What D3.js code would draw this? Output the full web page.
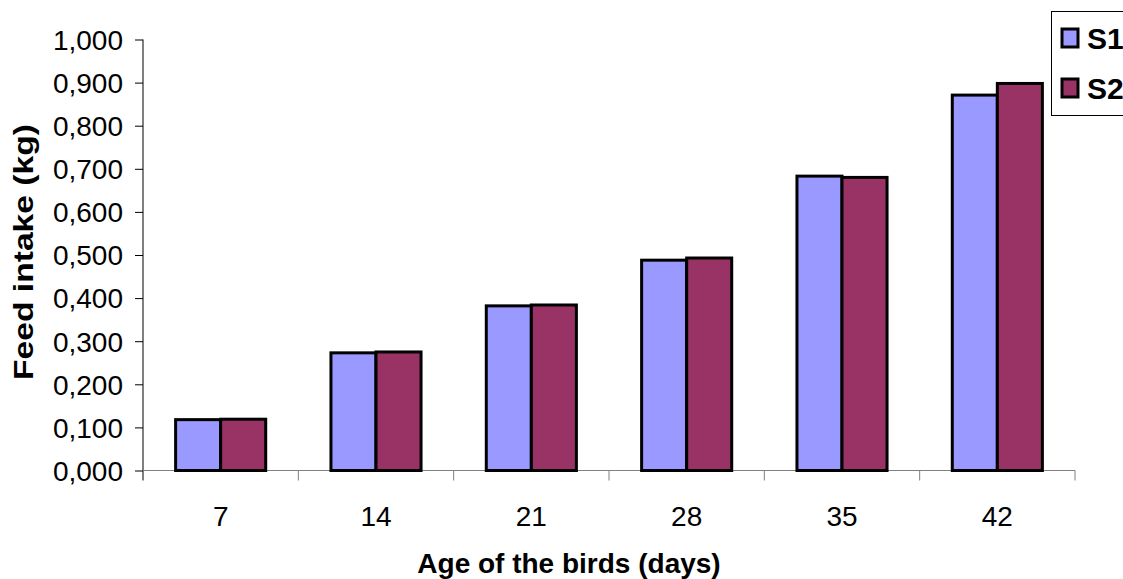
<!DOCTYPE html>
<html><head><meta charset="utf-8">
<script src="https://cdn.jsdelivr.net/npm/d3@7"></script>
<style>body{margin:0;background:#fff}svg{display:block}text{font-family:"Liberation Sans",Arial,sans-serif}</style>
</head><body>
<script>
const categories = ["7","14","21","28","35","42"];
const seriesNames = ["S1","S2"];
const s1 = [0.118, 0.273, 0.382, 0.488, 0.683, 0.871];
const s2 = [0.119, 0.275, 0.384, 0.493, 0.680, 0.898];
const yTicks = [0,0.1,0.2,0.3,0.4,0.5,0.6,0.7,0.8,0.9,1.0];
const colors = ["#9999FF","#993366"];

const W=1123,H=579;
const svg=d3.select("body").append("svg").attr("width",W).attr("height",H);
const x0=143,x1=1075,yb=470.5,yt=39.5;
const x=d3.scaleBand().domain(categories).range([x0,x1]).paddingInner(0.42).paddingOuter(0.21);
const xs=d3.scaleBand().domain(seriesNames).range([0,x.bandwidth()]);
const y=d3.scaleLinear().domain([0,1]).range([yb,yt]);

// y axis
const ya=svg.append("g").attr("transform",`translate(${x0},0)`)
 .call(d3.axisLeft(y).tickValues(yTicks).tickSize(8).tickPadding(12).tickFormat(d=>d3.format(".3f")(d).replace(".",",")));
ya.select(".domain").attr("d",`M0,${yt}V${yb+10}`).attr("stroke","#000");
ya.selectAll(".tick line").attr("stroke","#000");
ya.selectAll(".tick text").attr("font-size",28).attr("fill","#000").attr("dy","0.35em");

// x axis
const step=(x1-x0)/categories.length;
const xa=svg.append("g").attr("transform",`translate(0,${yb})`)
 .call(d3.axisBottom(x).tickSize(0).tickPadding(36));
xa.select(".domain").attr("d",`M${x0},0H${x1}`).attr("stroke","#808080");
xa.selectAll(".tick text").attr("font-size",28).attr("fill","#000");
const sepTicks=d3.range(1,categories.length+1).map(i=>x0+i*step);
svg.append("g").selectAll("line").data(sepTicks).join("line")
 .attr("x1",d=>d).attr("x2",d=>d).attr("y1",yb).attr("y2",yb+10).attr("stroke","#808080");

// bars
const data=[s1,s2];
seriesNames.forEach((s,si)=>{
  svg.append("g").selectAll("rect").data(categories).join("rect")
   .attr("x",c=>x(c)+xs(s)).attr("width",xs.bandwidth())
   .attr("y",(c,i)=>y(data[si][i])).attr("height",(c,i)=>yb-y(data[si][i]))
   .attr("fill",colors[si]).attr("stroke","#000").attr("stroke-width",3);
});

// titles
svg.append("text").attr("x",569).attr("y",573).attr("text-anchor","middle")
 .attr("font-size",28).attr("font-weight","bold").text("Age of the birds (days)");
svg.append("text").attr("transform","translate(33,252) rotate(-90) scale(1.18,1)").attr("text-anchor","middle")
 .attr("font-size",28.5).attr("font-weight","bold").text("Feed intake (kg)");

// legend
const lg=svg.append("g");
lg.append("rect").attr("x",1051.5).attr("y",11.5).attr("width",80).attr("height",104).attr("fill","#fff").attr("stroke","#000");
seriesNames.forEach((s,i)=>{
  const cy=38+i*50;
  lg.append("rect").attr("x",1062).attr("y",cy-9).attr("width",16).attr("height",18)
   .attr("fill",colors[i]).attr("stroke","#000").attr("stroke-width",3);
  lg.append("text").attr("x",1087).attr("y",cy).attr("dy","0.36em").attr("font-size",30).attr("font-weight","bold").text(s);
});
</script>
</body></html>
